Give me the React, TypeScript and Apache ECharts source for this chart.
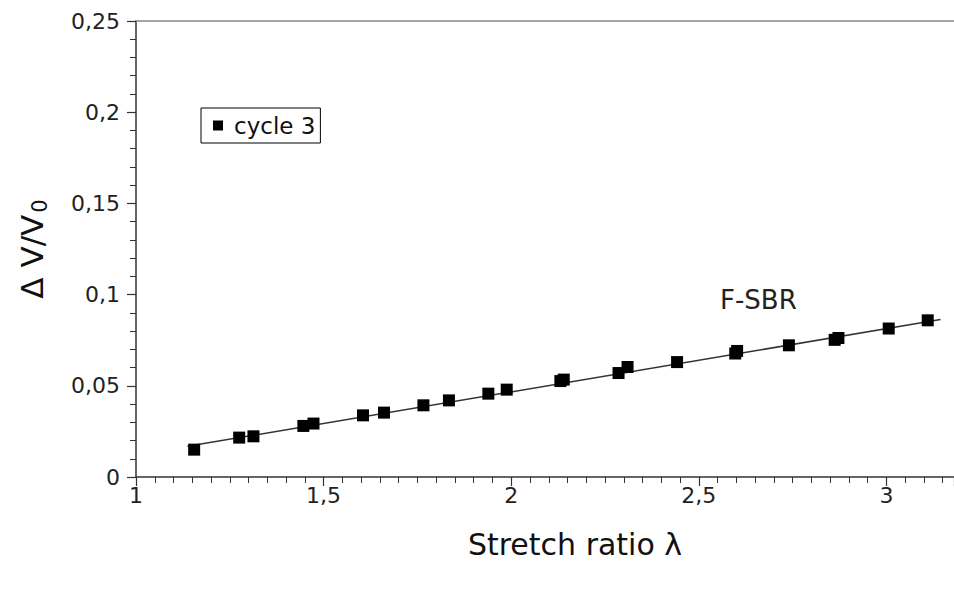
import React, { useEffect, useRef } from "react";
import * as echarts from "echarts";

const stretchRatio = [1.155, 1.275, 1.313, 1.446, 1.473, 1.605, 1.661, 1.766, 1.834, 1.939, 1.988, 2.131, 2.14, 2.286, 2.31, 2.442, 2.597, 2.602, 2.74, 2.862, 2.872, 3.006, 3.11];
const deltaV = [0.015, 0.0216, 0.0223, 0.028, 0.0293, 0.0338, 0.0353, 0.0393, 0.042, 0.0457, 0.0479, 0.0526, 0.0534, 0.057, 0.0603, 0.063, 0.0677, 0.0691, 0.0722, 0.0752, 0.0762, 0.0814, 0.0859];
const fitX = [1.137, 3.144];
const fitY = [0.0168, 0.0863];
const seriesName = "cycle 3";
const fitLabel = "F-SBR";

const FONT = "DejaVu Sans";
const fmt = (v: number) => String(Math.round(v * 1000) / 1000).replace(".", ",");

export default function App() {
  const ref = useRef<HTMLDivElement>(null);
  useEffect(() => {
    if (!ref.current) return;
    const chart = echarts.init(ref.current, undefined, { renderer: "svg" });
    chart.setOption({
      animation: false,
      backgroundColor: "#fff",
      grid: { left: 136, right: 0, top: 21, bottom: 115 },
      legend: {
        data: [seriesName],
        left: 201,
        top: 108,
        orient: "vertical",
        icon: "rect",
        itemWidth: 10,
        itemHeight: 10,
        backgroundColor: "#fff",
        borderColor: "#000",
        borderWidth: 1,
        borderRadius: 0,
        padding: [6, 5, 6, 12],
        itemStyle: { opacity: 1 },
        textStyle: { fontFamily: FONT, fontSize: 23, color: "#111", padding: [0, 0, 0, 6] },
      },
      xAxis: [
        {
          type: "value",
          min: 1,
          max: 3.18,
          interval: 0.5,
          name: "Stretch ratio λ",
          nameLocation: "middle",
          nameGap: 52,
          nameTextStyle: { fontFamily: FONT, fontSize: 30, color: "#111", padding: [0, 0, 0, 60] },
          axisLine: { show: true, onZero: false, lineStyle: { color: "#333", width: 1.5 } },
          axisTick: { show: true, inside: false, length: 9, lineStyle: { color: "#333", width: 1.2 } },
          minorTick: { show: true, splitNumber: 10, length: 6, lineStyle: { color: "#333", width: 1 } },
          axisLabel: { showMaxLabel: false, margin: 7, fontFamily: FONT, fontSize: 22, color: "#222", formatter: fmt },
          splitLine: { show: false },
        },
        {
          type: "value",
          position: "top",
          min: 1,
          max: 3.18,
          axisLine: { show: true, onZero: false, lineStyle: { color: "#888", width: 1.5 } },
          axisTick: { show: false },
          axisLabel: { show: false },
          splitLine: { show: false },
        },
      ],
      yAxis: {
        type: "value",
        min: 0,
        max: 0.25,
        interval: 0.05,
        name: "{a|Δ V/V}{b|0}",
        nameLocation: "middle",
        nameGap: 88,
        nameTextStyle: {
          fontFamily: FONT,
          color: "#111",
          rich: {
            a: { fontFamily: FONT, fontSize: 31, color: "#111", lineHeight: 32 },
            b: { fontFamily: FONT, fontSize: 21, color: "#111", lineHeight: 22, padding: [15, 0, 0, 2] },
          },
        },
        axisLine: { show: true, lineStyle: { color: "#333", width: 1.5 } },
        axisTick: { show: true, length: 9, lineStyle: { color: "#333", width: 1.2 } },
        minorTick: { show: true, splitNumber: 5, length: 6, lineStyle: { color: "#333", width: 1 } },
        axisLabel: { margin: 16, fontFamily: FONT, fontSize: 22, color: "#222", formatter: fmt },
        splitLine: { show: false },
      },
      graphic: [
        {
          type: "text",
          left: 720,
          top: 287,
          style: { text: fitLabel, fontFamily: FONT, fontSize: 26, fill: "#222" },
        },
      ],
      series: [
        {
          name: "fit",
          type: "line",
          data: fitX.map((x, i) => [x, fitY[i]]),
          showSymbol: false,
          symbol: "none",
          lineStyle: { color: "#333", width: 1.5 },
          z: 1,
        },
        {
          name: seriesName,
          type: "scatter",
          data: stretchRatio.map((x, i) => [x, deltaV[i]]),
          symbol: "rect",
          symbolSize: 12,
          itemStyle: { color: "#000", opacity: 1 },
          z: 2,
        },
      ],
    });
    return () => chart.dispose();
  }, []);
  return <div ref={ref} style={{ position: "fixed", left: 0, top: 0, width: 954, height: 592 }} />;
}
